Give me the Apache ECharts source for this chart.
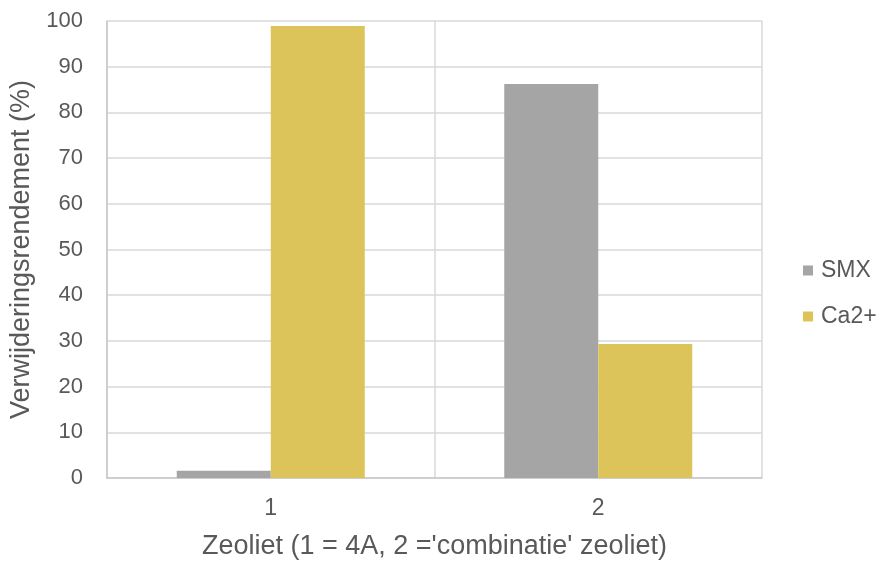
<!DOCTYPE html>
<html><head><meta charset="utf-8">
<script src="https://cdn.jsdelivr.net/npm/echarts@6/dist/echarts.min.js"></script>
<style>html,body{margin:0;padding:0;background:#fff}#c{width:879px;height:561px}</style>
</head><body><div id="c"></div>
<script>
const categories = ['1', '2'];
const smx = [1.6, 86.2];
const ca = [98.9, 29.3];
const seriesNames = ['SMX', 'Ca2+'];
const font = 'Liberation Sans, Arial, sans-serif';
const chart = echarts.init(document.getElementById('c'));
chart.setOption({
  animation: false,
  textStyle: { fontFamily: font },
  grid: { left: 107, right: 117, top: 21, bottom: 83, containLabel: false, outerBoundsMode: 'none' },
  legend: {
    orient: 'vertical', left: 803, top: 259, padding: 0, itemWidth: 10, itemHeight: 10, itemGap: 23,
    icon: 'rect',
    textStyle: { fontSize: 23, color: '#595959', fontFamily: font, padding: [0, 0, 0, 3] },
    data: seriesNames
  },
  xAxis: {
    type: 'category', data: categories,
    name: "Zeoliet (1 = 4A, 2 ='combinatie' zeoliet)", nameLocation: 'middle', nameGap: 55,
    nameTextStyle: { fontSize: 27, color: '#595959', fontFamily: font },
    axisLine: { lineStyle: { color: '#c8c8c8', width: 1.5 } },
    axisTick: { show: false },
    axisLabel: { fontSize: 23, color: '#595959', margin: 19 },
    splitLine: { show: true, lineStyle: { color: '#d9d9d9', width: 1.5 } }
  },
  yAxis: {
    type: 'value', min: 0, max: 100, interval: 10,
    name: 'Verwijderingsrendement (%)', nameLocation: 'middle', nameGap: 70,
    nameTextStyle: { fontSize: 27, color: '#595959', fontFamily: font },
    axisLine: { show: true, lineStyle: { color: '#c8c8c8', width: 1.5 } },
    axisTick: { show: false },
    axisLabel: { fontSize: 22, color: '#595959', margin: 24 },
    splitLine: { lineStyle: { color: '#d9d9d9', width: 1.5 } }
  },
  series: [
    { name: seriesNames[0], type: 'bar', data: smx, barWidth: 94, barGap: '0%', itemStyle: { color: '#a5a5a5' } },
    { name: seriesNames[1], type: 'bar', data: ca, barWidth: 94, barGap: '0%', itemStyle: { color: '#dcc45b' } }
  ]
});
</script></body></html>
